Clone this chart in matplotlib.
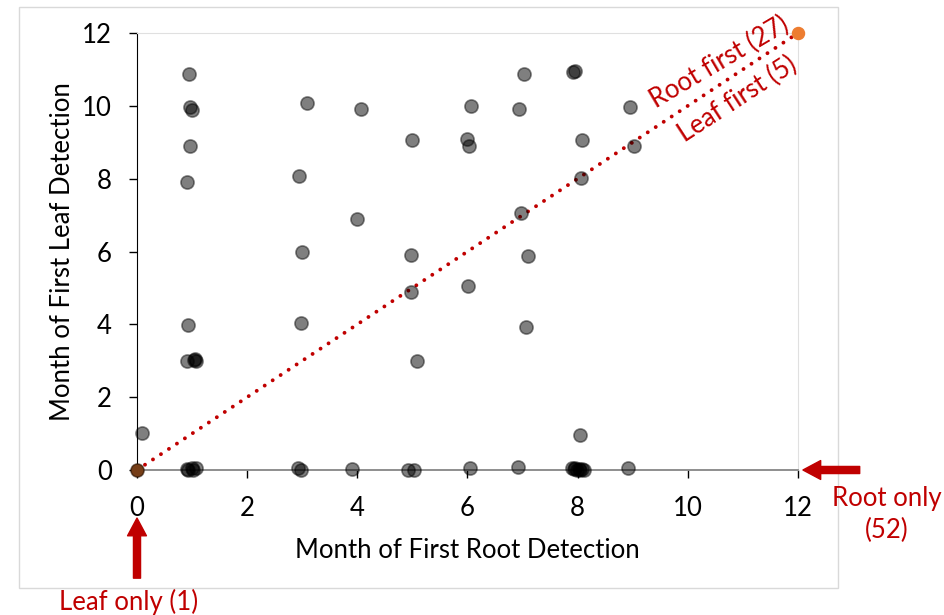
import matplotlib.pyplot as plt
from matplotlib.patches import Rectangle

# month of first root detection (x) and first leaf detection (y), 0 = never detected
root_month = [0.09, 0.94, 0.97, 1.00, 0.97, 0.91, 0.93, 0.90, 1.04, 1.08, 1.06,
              3.09, 2.95, 2.99, 2.98, 4.07, 3.99, 5.00, 4.97, 6.00, 6.02, 6.07,
              7.03, 6.93, 6.98, 7.92, 7.95, 8.08, 8.95,
              4.97, 5.09, 6.01, 7.10, 7.07, 8.06, 9.03, 8.04,
              0.00, 0.90, 0.92, 0.99, 1.08, 1.02, 2.92, 2.98, 3.91, 4.92, 5.03,
              6.04, 6.91, 7.90, 7.94, 7.98, 8.02, 8.05, 8.08, 8.12, 7.96, 8.92]
leaf_month = [1.02, 10.87, 9.98, 9.89, 8.89, 7.91, 3.98, 2.98, 3.02, 3.00, 3.05,
              10.08, 8.08, 5.98, 4.03, 9.92, 6.88, 9.07, 5.90, 9.08, 8.89, 10.00,
              10.87, 9.90, 7.05, 10.93, 10.95, 9.05, 9.98,
              4.90, 3.00, 5.04, 5.88, 3.92, 8.02, 8.89, 0.96,
              0.00, 0.02, 0.00, 0.05, 0.05, 0.00, 0.05, 0.00, 0.02, 0.00, 0.00,
              0.05, 0.07, 0.05, 0.02, 0.00, 0.03, 0.00, 0.02, 0.00, 0.06, 0.05]

# single-organ markers (leaf only / never)
special_x = [0, 12]
special_y = [0, 12]

one_to_one = [0, 12]
ticks = [0, 2, 4, 6, 8, 10, 12]

red = '#C00000'
fs = 18.5
plt.rcParams['font.family'] = ['Lato', 'DejaVu Sans']

fig = plt.figure(figsize=(9.45, 6.15), dpi=100)
ax = fig.add_axes([137/945, 1-470/615, 661/945, 437/615])

# light outer frame of the chart
fig.patches.append(Rectangle((19/945, 1-588/615), 819/945, 581/615, transform=fig.transFigure,
                             fill=False, edgecolor='#d9d9d9', linewidth=1, zorder=-1))

ax.plot(one_to_one, one_to_one, color=red, linewidth=2.8,
        linestyle=(0, (0.01, 2.45)), dash_capstyle='round', zorder=2)
ax.scatter(special_x, special_y, s=75, color='#ED7D31', zorder=3, clip_on=False)
ax.scatter(root_month, leaf_month, s=90, facecolor=(0, 0, 0, 0.5),
           edgecolor=(0, 0, 0, 0.45), linewidth=1.2, zorder=4, clip_on=False)

ax.set_xlim(0, 12)
ax.set_ylim(0, 12)
ax.set_xticks(ticks)
ax.set_yticks(ticks)
ax.tick_params(direction='out', length=6, width=1, colors='black', labelsize=fs, pad=12)
ax.tick_params(axis='x', pad=13)
ax.spines['left'].set_color('black')
ax.spines['bottom'].set_color('#868686')
ax.spines['bottom'].set_linewidth(1.3)
ax.spines['top'].set_color('#e0e0e0')
ax.spines['right'].set_color('#e0e0e0')

ax.set_xlabel('Month of First Root Detection', fontsize=fs, labelpad=12)
ax.set_ylabel('Month of First Leaf Detection', fontsize=fs, labelpad=5)

ax.text(10.58, 11.2, 'Root first (27)', color=red, fontsize=fs, rotation=30.5,
        ha='center', va='center', rotation_mode='anchor')
ax.text(10.91, 10.19, 'Leaf first (5)', color=red, fontsize=fs, rotation=33,
        ha='center', va='center', rotation_mode='anchor')

arrow = dict(arrowstyle='simple,head_length=0.75,head_width=0.8,tail_width=0.3',
             color=red, mutation_scale=17, shrinkA=0, shrinkB=0)
ax.annotate('', xy=(0, -1.32), xytext=(0, -2.97), arrowprops=arrow, annotation_clip=False)
ax.annotate('', xy=(12.09, 0), xytext=(13.12, 0), arrowprops=arrow, annotation_clip=False)
ax.text(-0.16, -3.63, 'Leaf only (1)', color=red, fontsize=fs, ha='center', va='center')
ax.text(13.61, -1.22, 'Root only\n(52)', color=red, fontsize=fs, ha='center', va='center',
        linespacing=1.35)

fig.savefig('out.png', dpi=100)
